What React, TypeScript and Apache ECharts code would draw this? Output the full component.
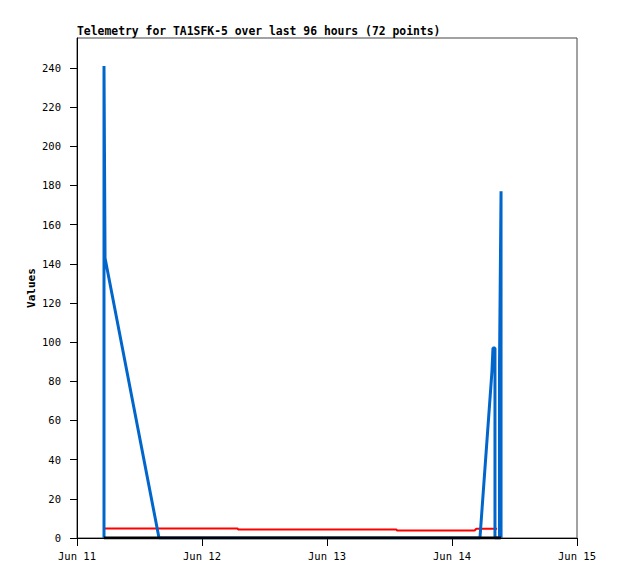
import React, { useEffect, useRef } from "react";
import * as echarts from "echarts";

const TITLE = "Telemetry for TA1SFK-5 over last 96 hours (72 points)";
const Y_NAME = "Values";
const X_LABELS = ["Jun 11", "Jun 12", "Jun 13", "Jun 14", "Jun 15"];
const Y_TICKS = [0, 20, 40, 60, 80, 100, 120, 140, 160, 180, 200, 220, 240];

// timestamps (Jun 11 00:00 = start of axis)
const blueTimes = [
  "06-11 05:11", "06-11 05:11", "06-11 05:23", "06-11 15:45", "06-14 05:22",
  "06-14 07:40", "06-14 07:52", "06-14 08:15", "06-14 08:15", "06-14 09:07",
  "06-14 09:07", "06-14 09:25", "06-14 09:25",
];
const blueValues = [0, 241, 143, 0, 0, 85, 97, 97, 0, 0, 88, 177, 0];

const redTimes = [
  "06-11 05:11", "06-12 06:50", "06-12 06:55", "06-13 13:20", "06-13 13:26",
  "06-14 04:20", "06-14 04:40", "06-14 08:40",
];
const redValues = [4.9, 4.9, 4.4, 4.4, 3.8, 3.8, 4.7, 4.7];

const blackTimes = ["06-11 05:11", "06-14 09:25"];
const blackValues = [0, 0];

function hoursFromStart(s: string): number {
  const [md, hm] = s.split(" ");
  const day = parseInt(md.split("-")[1], 10);
  const [h, m] = hm.split(":").map((v) => parseInt(v, 10));
  return (day - 11) * 24 + h + m / 60;
}

function pairs(times: string[], values: number[]) {
  return times.map((t, i) => [hoursFromStart(t), values[i]]);
}

const FONT = "'DejaVu Sans Mono', monospace";

export default function App() {
  const ref = useRef<HTMLDivElement>(null);
  useEffect(() => {
    if (!ref.current) return;
    const chart = echarts.init(ref.current, null, { renderer: "svg" });
    chart.setOption({
      animation: false,
      backgroundColor: "#ffffff",
      title: {
        text: TITLE,
        left: 77,
        top: 25,
        padding: 0,
        textStyle: { fontFamily: FONT, fontSize: 11.4, fontWeight: "bold", color: "#000" },
      },
      grid: {
        left: 77,
        right: 41,
        top: 38,
        bottom: 41,
        show: true,
        borderColor: "#444",
        borderWidth: 1,
        backgroundColor: "transparent",
      },
      xAxis: {
        type: "value",
        min: 0,
        max: 96,
        interval: 24,
        splitLine: { show: false },
        axisLine: { onZero: false, lineStyle: { color: "#000", width: 1 } },
        axisTick: { length: 8, lineStyle: { color: "#000" } },
        axisLabel: {
          margin: 12,
          fontFamily: FONT,
          fontSize: 10.5,
          color: "#000",
          formatter: (v: number) => X_LABELS[Math.round(v / 24)] ?? "",
        },
      },
      yAxis: {
        type: "value",
        min: 0,
        max: 255.3,
        name: Y_NAME,
        nameLocation: "middle",
        nameGap: 40,
        nameMoveOverlap: false,
        nameTextStyle: { fontFamily: FONT, fontSize: 11, fontWeight: "bold", color: "#000" },
        splitLine: { show: false },
        axisLine: { show: true, lineStyle: { color: "#000", width: 1 } },
        axisTick: { show: true, length: 7, customValues: Y_TICKS, lineStyle: { color: "#000" } },
        axisLabel: {
          margin: 16,
          fontFamily: FONT,
          fontSize: 10.5,
          color: "#000",
          customValues: Y_TICKS,
        },
      },
      series: [
        {
          type: "line",
          data: pairs(redTimes, redValues),
          symbol: "none",
          lineStyle: { color: "#ff0000", width: 2 },
          z: 2,
        },
        {
          type: "line",
          data: pairs(blueTimes, blueValues),
          symbol: "none",
          lineStyle: { color: "#0066cc", width: 3 },
          z: 3,
        },
        {
          type: "line",
          data: pairs(blackTimes, blackValues),
          symbol: "none",
          lineStyle: { color: "#000000", width: 3 },
          z: 4,
        },
      ],
    });
    return () => chart.dispose();
  }, []);
  return (
    <div
      ref={ref}
      style={{ position: "absolute", left: 0, top: 0, width: 618, height: 579 }}
    />
  );
}
